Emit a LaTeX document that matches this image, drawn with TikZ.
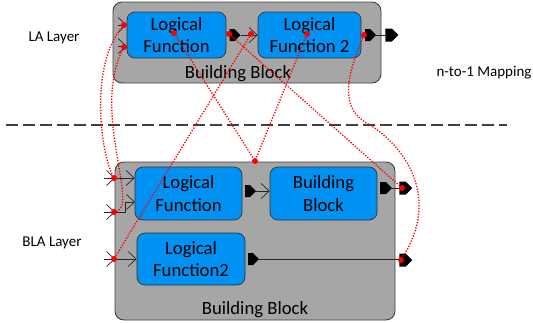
\documentclass[tikz,border=0pt]{standalone}
\usepackage{fontspec}
\setmainfont{Carlito}
\usetikzlibrary{arrows.meta,shapes.symbols,calc}
\definecolor{blkgray}{RGB}{166,166,166}
\definecolor{lfblue}{RGB}{0,146,242}
\definecolor{edgegray}{RGB}{64,64,64}

\begin{document}
\begin{tikzpicture}[x=1pt,y=-1pt,
  blk/.style={draw=edgegray,line width=0.9pt,fill=blkgray,rounded corners=9pt,inner sep=0pt},
  lf/.style={draw=black!80,line width=0.7pt,fill=lfblue,rounded corners=8pt,inner sep=0pt,align=center,font=\fontsize{18.7}{22.6}\selectfont},
  port/.style={signal,signal to=east,fill=black,inner sep=0pt,minimum height=12pt,minimum width=11pt},
  wire/.style={draw=black!85,line width=0.7pt},
  inarr/.style={wire,-{Straight Barb[length=8pt,width=15pt]}},
  mapdot/.style={circle,fill=red,inner sep=0pt,minimum size=6pt},
  mapline/.style={red,dash pattern=on 1.3pt off 1.5pt,line width=1.3pt},
  lbl/.style={font=\fontsize{15}{18}\selectfont},
  blklbl/.style={font=\fontsize{18.7}{22}\selectfont}]
\useasboundingbox (0,0) rectangle (533,322);

\node[lbl] (laname) at (54,38) {LA Layer};
\node[lbl] (blaname) at (52,243) {BLA Layer};
\node[lbl] (mapname) at (484,73) {n-to-1 Mapping};
\draw[edgegray,line width=1.4pt,dash pattern=on 12pt off 5pt] (6,125) -- (507,125);

\node[blk,minimum width=268pt,minimum height=81pt] (topblk) at (247,42.5) {};
\node[blklbl] (toplbl) at (238,74) {Building Block};
\node[lf,minimum width=99pt,minimum height=46pt] (lfA) at (176.5,35) {Logical\\Function};
\node[lf,minimum width=103pt,minimum height=46pt] (lfB) at (309.5,35) {Logical\\Function 2};
\node[port] (pA) at (232,35) {};
\node[port] (pB) at (367.5,35) {};
\node[port,minimum width=13pt,minimum height=13pt] (pT) at (388.5,35) {};
\coordinate (inA1) at (118,25);
\coordinate (inA2) at (118,46);
\draw[inarr] (inA1) -- (inA1 -| lfA.west);
\draw[inarr] (inA2) -- (inA2 -| lfA.west);
\draw[inarr] (pA.east) -- (lfB.west);
\draw[wire] (pB.east) -- (pT.west);

\node[blk,minimum width=280pt,minimum height=158pt] (botblk) at (255,241) {};
\node[blklbl] (botlbl) at (255,310) {Building Block};
\node[lf,minimum width=107pt,minimum height=53pt] (lfC) at (188.5,193.5) {Logical\\Function};
\node[lf,minimum width=107pt,minimum height=53pt] (bbD) at (323.5,193.5) {Building\\Block};
\node[lf,minimum width=108pt,minimum height=52pt] (lfE) at (191,259) {Logical\\Function2};
\node[port] (pC) at (247.5,191) {};
\node[port,minimum width=12pt] (pD) at (383,188) {};
\node[port,minimum width=13pt,minimum height=13pt] (pO1) at (402.5,188) {};
\node[port] (pE) at (250.5,259) {};
\node[port,minimum width=13pt,minimum height=13pt] (pO2) at (402.5,260) {};
\coordinate (oB1) at (104,178);
\coordinate (oB2) at (104,212);
\coordinate (oB3) at (104,259);
\coordinate (jB1) at (115,178);
\coordinate (jB2) at (115,212);
\coordinate (jB3) at (115,259);
\coordinate (inC2) at (135,202);
\draw[inarr] (oB1) -- (jB1);
\draw[inarr] (oB2) -- (jB2);
\draw[inarr] (oB3) -- (jB3);
\draw[inarr] (jB1) -- (jB1 -| lfC.west);
\draw[inarr] (jB2) -- ++(10,0) |- (inC2);
\draw[inarr] (jB3) -- (jB3 -| lfE.west);
\draw[inarr] (pC.east) -- (pC.east -| bbD.west);
\draw[wire] (pD.east) -- (pO1.west);
\draw[wire] (pE.east) -- (pE.east -| pO2.west);

\node[mapdot] (mA1) at (124,25) {};
\node[mapdot] (mA2) at (124,47) {};
\node[mapdot] (mLA) at (174,33) {};
\node[mapdot] (mPA) at (229,34) {};
\node[mapdot] (mIB) at (251,34) {};
\node[mapdot] (mLB) at (307,34) {};
\node[mapdot] (mPB) at (364,35) {};
\node[mapdot] (mB1) at (114,178) {};
\node[mapdot] (mB2) at (114,212) {};
\node[mapdot] (mB3) at (114,259) {};
\node[mapdot] (mBB) at (255,161) {};
\node[mapdot] (mO1) at (402,188) {};
\node[mapdot] (mO2) at (401,260) {};

\draw[mapline] (mA1) .. controls (90,65) and (100,150) .. (mB1);
\draw[mapline] (mA2) .. controls (92,110) and (138,205) .. (mB2);
\draw[mapline] (mIB) -- (mB3);
\draw[mapline] (mLA) -- (mBB);
\draw[mapline] (mLB) -- (mBB);
\draw[mapline] (mPA) -- (mO1);
\draw[mapline] (mPB) .. controls (345,80) and (340,110) .. (370,125) .. controls (395,140) and (445,190) .. (mO2);
\end{tikzpicture}
\end{document}
